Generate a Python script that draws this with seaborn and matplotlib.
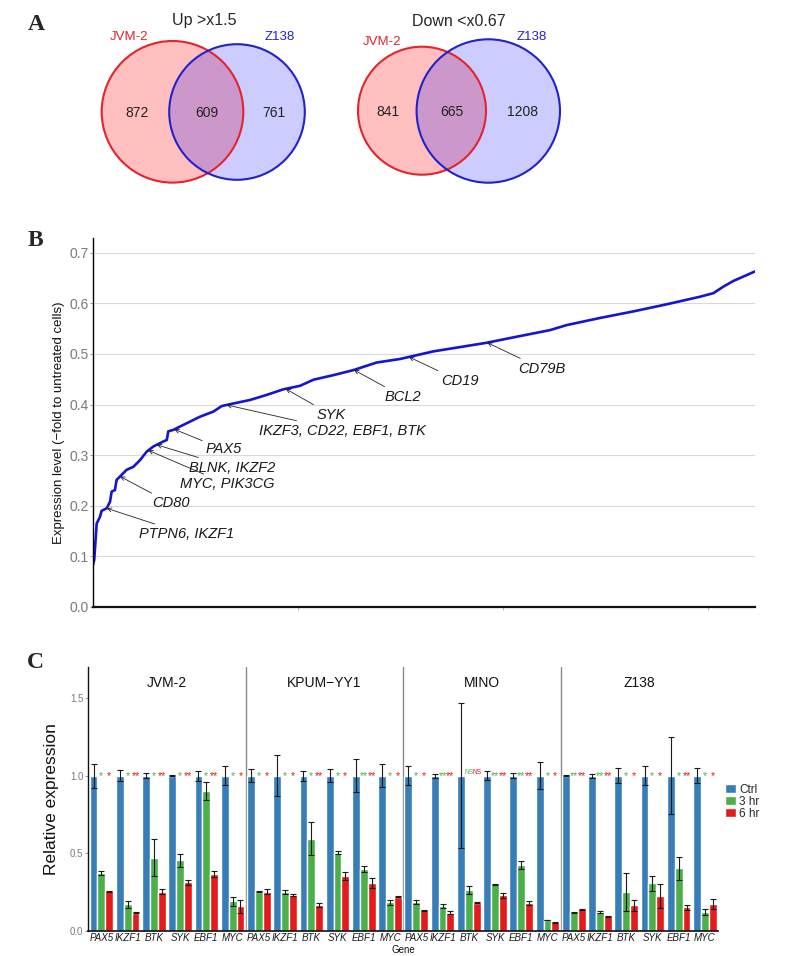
import numpy as np
import pandas as pd
import matplotlib
matplotlib.use('Agg')
import matplotlib.pyplot as plt
from matplotlib.patches import Circle
import seaborn as sns

# ---- panel A: venn counts ----
venn_titles = ['Up >x1.5', 'Down <x0.67']
venn_sets = ['JVM-2', 'Z138']
venn_counts = [[872, 609, 761], [841, 665, 1208]]

# ---- panel B: sorted fold change curve ----
curve_idx = [0, 6, 18, 34, 42, 67, 83, 91, 107, 115, 132, 164, 197, 229, 262, 294,
             343, 360, 367, 392, 457, 522, 587, 628, 684, 766, 847, 928, 1010, 1075,
             1172, 1270, 1384, 1498, 1660, 1920, 2067, 2229, 2311, 2473, 2636, 2798,
             2961, 3026, 3075, 3123, 3229]
curve_val = [0.083, 0.093, 0.165, 0.178, 0.19, 0.195, 0.208, 0.228, 0.231, 0.251, 0.258,
             0.271, 0.277, 0.29, 0.307, 0.317, 0.327, 0.33, 0.347, 0.35, 0.363, 0.376,
             0.386, 0.397, 0.402, 0.409, 0.419, 0.43, 0.437, 0.449, 0.458, 0.468, 0.483,
             0.49, 0.505, 0.522, 0.534, 0.547, 0.557, 0.571, 0.584, 0.598, 0.613, 0.62,
             0.633, 0.644, 0.663]
note_labels = ['PTPN6, IKZF1', 'CD80', 'MYC, PIK3CG', 'BLNK, IKZF2', 'PAX5',
               'IKZF3, CD22, EBF1, BTK', 'SYK', 'BCL2', 'CD19', 'CD79B']
note_idx = [67, 132, 270, 311, 397, 652, 940, 1273, 1541, 1923]

# ---- panel C: qPCR ----
cells = ['JVM-2', 'KPUM\u2212YY1', 'MINO', 'Z138']
genes = ['PAX5', 'IKZF1', 'BTK', 'SYK', 'EBF1', 'MYC']
times = ['Ctrl', '3 hr', '6 hr']
ctrl = [[1.0, 1.0, 1.0, 1.0, 1.0, 1.0],
        [1.0, 1.0, 1.0, 1.0, 1.0, 1.0],
        [1.0, 1.0, 1.0, 1.0, 1.0, 1.0],
        [1.0, 1.0, 1.0, 1.0, 1.0, 1.0]]
ctrl_err = [[0.077, 0.034, 0.014, 0.005, 0.032, 0.059],
            [0.043, 0.134, 0.032, 0.043, 0.109, 0.072],
            [0.063, 0.013, 0.47, 0.03, 0.014, 0.089],
            [0.004, 0.013, 0.048, 0.063, 0.246, 0.051]]
hr3 = [[0.369, 0.17, 0.47, 0.453, 0.901, 0.189],
       [0.251, 0.249, 0.594, 0.504, 0.399, 0.182],
       [0.185, 0.159, 0.262, 0.298, 0.423, 0.069],
       [0.12, 0.118, 0.249, 0.305, 0.403, 0.122]]
hr3_err = [[0.013, 0.021, 0.119, 0.04, 0.059, 0.027],
           [0.002, 0.013, 0.105, 0.011, 0.021, 0.019],
           [0.013, 0.013, 0.026, 0.005, 0.027, 0.003],
           [0.003, 0.006, 0.121, 0.047, 0.073, 0.018]]
hr6 = [[0.255, 0.116, 0.251, 0.313, 0.367, 0.157],
       [0.251, 0.23, 0.165, 0.352, 0.309, 0.219],
       [0.133, 0.116, 0.18, 0.227, 0.176, 0.054],
       [0.137, 0.094, 0.165, 0.223, 0.15, 0.172]]
hr6_err = [[0.003, 0.005, 0.015, 0.017, 0.019, 0.042],
           [0.015, 0.005, 0.011, 0.028, 0.032, 0.004],
           [0.003, 0.008, 0.003, 0.013, 0.013, 0.003],
           [0.003, 0.003, 0.036, 0.075, 0.014, 0.034]]
sig3 = [['*', '*', '*', '*', '*', '*'],
        ['*', '*', '*', '*', '**', '*'],
        ['*', '**', 'NS', '**', '**', '*'],
        ['**', '**', '*', '*', '*', '*']]
sig6 = [['*', '**', '**', '**', '**', '*'],
        ['*', '*', '**', '*', '**', '*'],
        ['*', '**', 'NS', '**', '**', '*'],
        ['**', '**', '*', '*', '**', '*']]

sns.set_style('white')
plt.rcParams['font.family'] = ['Liberation Sans', 'DejaVu Sans']

fig = plt.figure(figsize=(7.95, 9.56), dpi=100)

panel_font = dict(family=['Liberation Serif', 'DejaVu Serif'], fontweight='bold', fontsize=17)
fig.text(36 / 795, 1 - 25 / 956, 'A', ha='center', va='center', **panel_font)
fig.text(35 / 795, 1 - 240 / 956, 'B', ha='center', va='center', **panel_font)
fig.text(35 / 795, 1 - 663 / 956, 'C', ha='center', va='center', **panel_font)

# ---------------- A ----------------
axv = fig.add_axes([0, 1 - 191.2 / 956, 1, 191.2 / 956])
axv.set_xlim(0, 795)
axv.set_ylim(191.2, 0)
axv.axis('off')

red, blue = '#E3242B', '#2222CC'
venn_geo = [
    dict(c1=(172.5, 111.8, 70.8), c2=(237, 112, 67.8), title=(204.5, 21),
         lab1=(129, 37), lab2=(280, 37), nums=[(136.7, 113), (206.7, 113), (274, 113)]),
    dict(c1=(422, 110.7, 64), c2=(488.3, 111, 71.7), title=(459, 21),
         lab1=(382, 42), lab2=(532, 37), nums=[(388, 112), (451.7, 112), (522.7, 112)]),
]
for k, g in enumerate(venn_geo):
    axv.add_patch(Circle(g['c1'][:2], g['c1'][2], facecolor=(1, 0, 0, 0.25), edgecolor='none'))
    axv.add_patch(Circle(g['c2'][:2], g['c2'][2], facecolor=(0, 0, 1, 0.2), edgecolor='none'))
    axv.add_patch(Circle(g['c1'][:2], g['c1'][2], facecolor='none', edgecolor=red, lw=1.5))
    axv.add_patch(Circle(g['c2'][:2], g['c2'][2], facecolor='none', edgecolor=blue, lw=1.5))
    axv.text(*g['title'], venn_titles[k], ha='center', va='center', fontsize=11.5)
    axv.text(*g['lab1'], venn_sets[0], ha='center', va='center', fontsize=9.5, color=red)
    axv.text(*g['lab2'], venn_sets[1], ha='center', va='center', fontsize=9.5, color=blue)
    for (x, y), n in zip(g['nums'], venn_counts[k]):
        axv.text(x, y, str(n), ha='center', va='center', fontsize=10, color='#222222')

# ---------------- B ----------------
axb = fig.add_axes([93 / 795, 1 - 607 / 956, (755 - 93) / 795, (607 - 238) / 956])
sns.lineplot(x=curve_idx, y=curve_val, ax=axb, color='#1414D2', lw=1.9)
axb.set_xlim(0, 3229)
axb.set_ylim(0, 0.729)
axb.set_yticks(np.arange(0, 0.71, 0.1))
axb.set_yticklabels([f'{v:.1f}' for v in np.arange(0, 0.71, 0.1)])
axb.set_xticks([1000, 2000, 3000])
axb.set_xticklabels([])
axb.grid(axis='y', color='#DADADA', lw=0.8)
axb.set_axisbelow(True)
for s in ['top', 'right']:
    axb.spines[s].set_visible(False)
axb.spines['left'].set_color('black')
axb.spines['left'].set_linewidth(1.0)
axb.spines['bottom'].set_color('#111111')
axb.spines['bottom'].set_linewidth(1.6)
axb.tick_params(axis='y', length=2, width=0.6, color='#888888', pad=1,
                labelsize=10, labelcolor='#7A7A7A', left=True)
axb.tick_params(axis='x', length=2, width=0.6, color='#AAAAAA', bottom=True)
axb.set_ylabel('Expression level (\u2212fold to untreated cells)', fontsize=9.5,
               color='#111111', labelpad=3)

# labels sit down-right of the arrow tip, like the reference
note_off = [(32, -26), (32, -27), (32, -34), (32, -23), (31, -20),
            (32, -26), (31, -26), (31, -27), (32, -24), (31, -26)]
for lab, ix, off in zip(note_labels, note_idx, note_off):
    yv = np.interp(ix, curve_idx, curve_val)
    axb.annotate(lab, xy=(ix, yv), xytext=off, textcoords='offset pixels',
                 ha='left', va='center', fontsize=10.5, style='italic', color='#1a1a1a',
                 arrowprops=dict(arrowstyle='->', color='#222222', lw=0.6,
                                 shrinkA=0, shrinkB=0, mutation_scale=7))

# ---------------- C ----------------
rows = []
for ci, cell in enumerate(cells):
    for gi, gene in enumerate(genes):
        slot = f'{cell}|{gene}'
        rows.append((slot, 'Ctrl', ctrl[ci][gi], ctrl_err[ci][gi]))
        rows.append((slot, '3 hr', hr3[ci][gi], hr3_err[ci][gi]))
        rows.append((slot, '6 hr', hr6[ci][gi], hr6_err[ci][gi]))
df = pd.DataFrame(rows, columns=['slot', 'time', 'value', 'err'])
slots = list(dict.fromkeys(df['slot']))

axc = fig.add_axes([88.3 / 795, 1 - 930.7 / 956, (718 - 88.3) / 795, (930.7 - 667) / 956])
pal = {'Ctrl': '#377EB8', '3 hr': '#4DAF4A', '6 hr': '#E41A1C'}
sns.barplot(data=df, x='slot', y='value', hue='time', order=slots, hue_order=times,
            palette=pal, width=0.9, errorbar=None, saturation=1, ax=axc)

for cont, t in zip(axc.containers, times):
    sub = df[df['time'] == t].set_index('slot').loc[slots]
    xs = [p.get_x() + p.get_width() / 2 for p in cont]
    axc.errorbar(xs, sub['value'], yerr=sub['err'], fmt='none', ecolor='#1a1a1a',
                 elinewidth=0.8, capsize=2.5, capthick=0.8, zorder=3)
    if t != 'Ctrl':
        sig = sig3 if t == '3 hr' else sig6
        col = pal[t]
        for k, x in enumerate(xs):
            s = sig[k // 6][k % 6]
            if s == 'NS':
                axc.text(x, 1.008, s, ha='center', va='baseline', fontsize=4.8, color=col)
            else:
                axc.text(x, 0.975, s, ha='center', va='baseline', fontsize=7.8, color=col)

axc.set_ylim(0, 1.7)
axc.set_xlim(-0.5, len(slots) - 0.5)
axc.set_yticks([0, 0.5, 1.0, 1.5])
axc.set_yticklabels(['0.0', '0.5', '1.0', '1.5'])
axc.set_xticks(range(len(slots)))
axc.set_xticklabels(genes * len(cells), style='italic')
for b in [5.5, 11.5, 17.5]:
    axc.axvline(b, color='#8A8A8A', lw=1.0, zorder=0)
for ci, cell in enumerate(cells):
    axc.text(ci * 6 + 2.5, 1.6, cell, ha='center', va='center', fontsize=10, color='#111111')
for s in ['top', 'right']:
    axc.spines[s].set_visible(False)
axc.spines['left'].set_color('#111111')
axc.spines['left'].set_linewidth(1.0)
axc.spines['bottom'].set_color('#111111')
axc.spines['bottom'].set_linewidth(1.2)
axc.tick_params(axis='y', length=2, width=0.6, color='#888888', pad=1.5,
                labelsize=7, labelcolor='#7A7A7A', left=True)
axc.tick_params(axis='x', length=0, pad=2, labelsize=7, labelcolor='#1a1a1a')
axc.set_ylabel('Relative expression', fontsize=12.5, color='#111111', labelpad=8)
axc.set_xlabel('Gene', fontsize=7, color='#111111', labelpad=1)

handles, labels = axc.get_legend_handles_labels()
if axc.legend_:
    axc.legend_.remove()
fig.legend(handles, labels, loc='upper left', bbox_to_anchor=(725 / 795, 1 - 784 / 956),
           frameon=False, fontsize=8.5, handlelength=0.9, handleheight=0.8,
           handletextpad=0.3, labelspacing=0.0, borderpad=0, borderaxespad=0)

fig.savefig('out.png', dpi=100)
